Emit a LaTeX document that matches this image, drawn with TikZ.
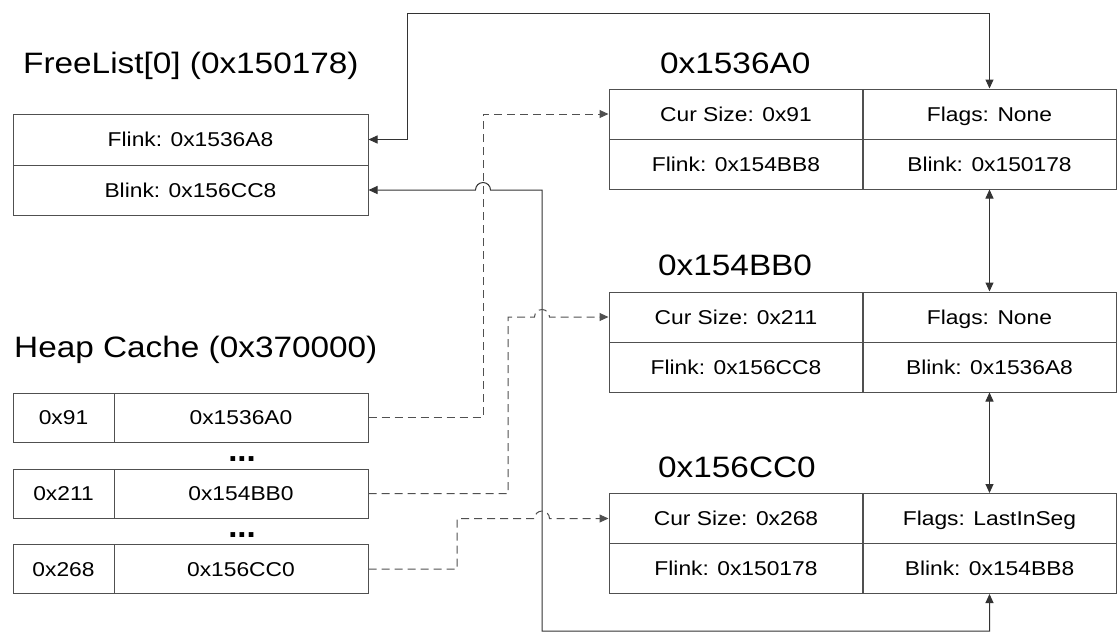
\documentclass[tikz,border=0pt]{standalone}
\usepackage{fontspec}
\setmainfont{Liberation Sans}
\usetikzlibrary{arrows.meta,calc}
\newcommand{\cellstretch}[1]{\scalebox{1.14}[1]{#1}}
\newcommand{\titlestretch}[1]{\scalebox{1.13}[1]{#1}}
\definecolor{linegray}{RGB}{80,80,80}
\tikzset{
  cell/.style={draw=linegray, line width=1pt, inner sep=0pt, text height=14.3pt, text depth=0pt, font=\fontsize{20}{24}\selectfont},
  fcell/.style={cell, minimum width=355pt},
  kcell/.style={cell, minimum width=101pt, minimum height=49pt},
  vcell/.style={cell, minimum width=254pt, minimum height=49pt},
  bcell/.style={cell, minimum width=254pt, minimum height=50pt},
  ttl/.style={anchor=base west, inner sep=0pt, font=\fontsize{29.5}{34}\selectfont},
  dots/.style={anchor=base, inner sep=0pt, font=\fontsize{33}{38}\selectfont\bfseries},
  tip/.style={-{Triangle[length=9pt,width=8pt]}},
  both/.style={{Triangle[length=9pt,width=8pt]}-{Triangle[length=9pt,width=8pt]}},
  link/.style={draw=black!80, line width=1pt},
  dlink/.style={draw=linegray, line width=1pt, dash pattern=on 8pt off 5pt},
}
\begin{document}
\begin{tikzpicture}[x=1pt,y=-1pt]
\useasboundingbox (0,0) rectangle (1117,633);
% titles
\node[ttl] (tfl) at (23,73) {\titlestretch{FreeList[0] (0x150178)}};
\node[ttl] (thc) at (14,357) {\titlestretch{Heap Cache (0x370000)}};
\node[ttl] (t1) at (660,73) {\titlestretch{0x1536A0}};
\node[ttl] (t2) at (658,275) {\titlestretch{0x154BB0}};
\node[ttl] (t3) at (658,477) {\titlestretch{0x156CC0}};
% FreeList
\node[fcell, minimum height=51pt] (fl1) at (190.5,139.5) {\cellstretch{Flink: 0x1536A8}};
\node[fcell, minimum height=50pt] (fl2) at (190.5,190) {\cellstretch{Blink: 0x156CC8}};
% Heap cache
\node[kcell] (hc1a) at (63.5,417.5) {\cellstretch{0x91}};
\node[vcell] (hc1b) at (241,417.5) {\cellstretch{0x1536A0}};
\node[kcell] (hc2a) at (63.5,493.5) {\cellstretch{0x211}};
\node[vcell] (hc2b) at (241,493.5) {\cellstretch{0x154BB0}};
\node[kcell] (hc3a) at (63.5,569) {\cellstretch{0x268}};
\node[vcell] (hc3b) at (241,569) {\cellstretch{0x156CC0}};
\node[dots] (d1) at (242,461) {...};
\node[dots] (d2) at (242,537) {...};
% Blocks
\node[bcell] (b1s) at (736,114) {\cellstretch{Cur Size: 0x91}};
\node[bcell] (b1g) at (989.5,114) {\cellstretch{Flags: None}};
\node[bcell] (b1f) at (736,164) {\cellstretch{Flink: 0x154BB8}};
\node[bcell] (b1b) at (989.5,164) {\cellstretch{Blink: 0x150178}};
\node[bcell] (b2s) at (736,317) {\cellstretch{Cur Size: 0x211}};
\node[bcell] (b2g) at (989.5,317) {\cellstretch{Flags: None}};
\node[bcell] (b2f) at (736,367) {\cellstretch{Flink: 0x156CC8}};
\node[bcell] (b2b) at (989.5,367) {\cellstretch{Blink: 0x1536A8}};
\node[bcell] (b3s) at (736,518.5) {\cellstretch{Cur Size: 0x268}};
\node[bcell] (b3g) at (989.5,518.5) {\cellstretch{Flags: LastInSeg}};
\node[bcell] (b3f) at (736,568.5) {\cellstretch{Flink: 0x150178}};
\node[bcell] (b3b) at (989.5,568.5) {\cellstretch{Blink: 0x154BB8}};
% solid links
\draw[link, both] (fl1.east) -- (407,139.5) -- (407,13) -| (b1g.north);
\draw[link, both] (fl2.east) -- (475.5,190) arc[start angle=180,end angle=0,radius=7.5pt]
  -- (542,190) -- (542,631) -| (b3b.south);
\draw[link, both] (b1b.south) -- (b2g.north);
\draw[link, both] (b2b.south) -- (b3g.north);
% dashed links
\draw[dlink, tip] (hc1b.east) -- (483,417.5) |- (b1s.west);
\draw[dlink, tip] (hc2b.east) -- (508,493.5) -- (508,317) -- (534.5,317)
  arc[start angle=180,end angle=0,radius=7.5pt] -- (b2s.west);
\draw[dlink, tip] (hc3b.east) -- (457,569) -- (457,518.5) -- (534.5,518.5)
  arc[start angle=180,end angle=0,radius=7.5pt] -- (b3s.west);
\end{tikzpicture}
\end{document}
